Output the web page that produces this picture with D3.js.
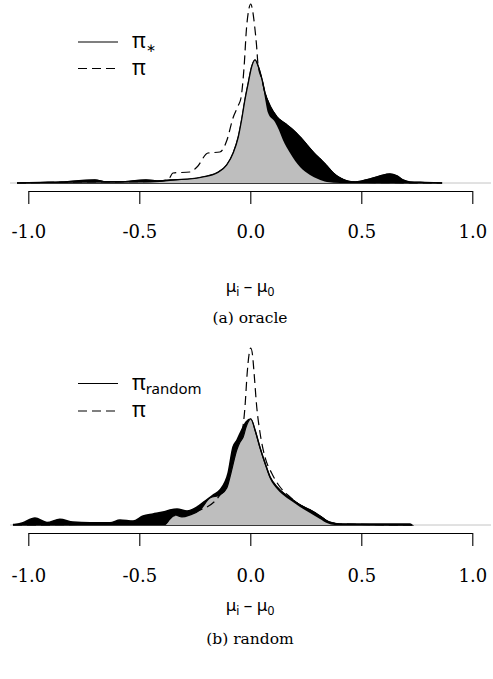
<!DOCTYPE html>
<html>
<head>
<meta charset="utf-8">
<script src="https://cdn.jsdelivr.net/npm/d3@7/dist/d3.min.js"></script>
<style>
    body { margin: 0; background: #fff; }
</style>
</head>
<body>
<svg id="chart" width="493" height="679"></svg>
<script>
//tick values shared by both panels
var tickValues = [-1.0, -0.5, 0.0, 0.5, 1.0];

//(a) oracle, pairs of [mu_i - mu_0, density]
var oracleSolid = [
    [-1.051, 0], [-0.947, 0.017], [-0.85, 0.03], [-0.70, 0.1], [-0.65, 0.04], [-0.587, 0.04],
    [-0.47, 0.1], [-0.42, 0.07], [-0.362, 0.1], [-0.272, 0.133], [-0.213, 0.2], [-0.151, 0.333],
    [-0.106, 0.6], [-0.077, 1.0], [-0.054, 1.533], [-0.039, 2.1], [-0.024, 2.767], [-0.009, 3.333],
    [0.006, 3.867], [0.021, 4.1], [0.035, 3.9], [0.053, 3.433], [0.066, 3.0], [0.089, 2.567],
    [0.120, 2.2], [0.165, 1.933], [0.192, 1.767], [0.224, 1.533], [0.255, 1.267], [0.282, 1.033],
    [0.314, 0.8], [0.345, 0.567], [0.373, 0.333], [0.404, 0.167], [0.436, 0.067], [0.472, 0.033],
    [0.503, 0.067], [0.539, 0.133], [0.584, 0.233], [0.629, 0.3], [0.661, 0.233], [0.688, 0.1],
    [0.719, 0.033], [0.787, 0.017], [0.864, 0]
];
var oracleGray = [
    [-1.051, 0], [-0.45, 0.017], [-0.362, 0.067], [-0.272, 0.133], [-0.213, 0.2], [-0.151, 0.333],
    [-0.106, 0.6], [-0.077, 1.0], [-0.054, 1.533], [-0.039, 2.1], [-0.024, 2.767], [-0.009, 3.333],
    [0.006, 3.867], [0.021, 4.1], [0.035, 3.867], [0.053, 3.4], [0.066, 2.833], [0.080, 2.333],
    [0.111, 2.033], [0.129, 1.767], [0.147, 1.433], [0.179, 1.0], [0.224, 0.533], [0.269, 0.267],
    [0.305, 0.133], [0.345, 0.033], [0.404, 0], [0.864, 0]
];
var oracleDashed = [
    [-1.051, 0], [-0.767, 0.033], [-0.452, 0.05], [-0.371, 0.1], [-0.348, 0.333], [-0.272, 0.367],
    [-0.240, 0.533], [-0.191, 1.0], [-0.137, 1.033], [-0.105, 1.433], [-0.078, 2.167], [-0.055, 2.567],
    [-0.042, 2.833], [-0.028, 3.867], [-0.017, 5.167], [-0.008, 5.733], [0.002, 5.967], [0.010, 5.767],
    [0.019, 5.267], [0.028, 4.6], [0.035, 3.933], [0.053, 3.433], [0.066, 3.0], [0.089, 2.567],
    [0.120, 2.2], [0.165, 1.933], [0.192, 1.767], [0.224, 1.533], [0.255, 1.267], [0.282, 1.033],
    [0.314, 0.8], [0.345, 0.567], [0.373, 0.333], [0.404, 0.167], [0.436, 0.067], [0.5, 0.02], [0.864, 0]
];

//(b) random
var randomBand = [
    [-1.069, 0], [-1.028, 0.067], [-0.970, 0.233], [-0.916, 0.083], [-0.858, 0.19], [-0.799, 0.1],
    [-0.722, 0.077], [-0.632, 0.077], [-0.587, 0.167], [-0.528, 0.133], [-0.483, 0.3], [-0.438, 0.367],
    [-0.393, 0.433], [-0.362, 0.5], [-0.330, 0.533], [-0.285, 0.467], [-0.240, 0.6], [-0.204, 0.8],
    [-0.168, 1.0], [-0.137, 1.167], [-0.100, 1.733], [-0.078, 2.6], [-0.060, 2.833], [-0.039, 3.167],
    [-0.019, 3.433], [0.002, 3.533], [0.021, 3.167], [0.044, 2.567], [0.066, 2.067], [0.089, 1.6],
    [0.120, 1.267], [0.165, 0.967], [0.192, 0.833], [0.224, 0.667], [0.269, 0.5], [0.314, 0.3],
    [0.345, 0.133], [0.372, 0.067], [0.404, 0.033], [0.719, 0.033], [0.728, 0]
];
var randomGray = [
    [-1.069, 0], [-0.384, 0], [-0.362, 0.2], [-0.339, 0.333], [-0.308, 0.267], [-0.272, 0.333],
    [-0.227, 0.5], [-0.182, 0.9], [-0.137, 1.0], [-0.106, 1.233], [-0.087, 1.733], [-0.061, 2.5],
    [-0.046, 2.767], [-0.032, 2.933], [-0.019, 3.267], [0.002, 3.533], [0.021, 3.1], [0.044, 2.5],
    [0.066, 2.0], [0.089, 1.533], [0.120, 1.2], [0.165, 0.9], [0.192, 0.767], [0.224, 0.6],
    [0.269, 0.4], [0.314, 0.2], [0.345, 0.067], [0.381, 0], [0.728, 0]
];
var randomSolid = [
    [-1.069, 0.02], [-0.384, 0.02], [-0.362, 0.2], [-0.339, 0.333], [-0.308, 0.267], [-0.272, 0.333],
    [-0.227, 0.5], [-0.182, 0.9], [-0.137, 1.0], [-0.106, 1.233], [-0.087, 1.733], [-0.061, 2.5],
    [-0.046, 2.767], [-0.032, 2.933], [-0.019, 3.267], [0.002, 3.533], [0.021, 3.167], [0.044, 2.567],
    [0.066, 2.067], [0.089, 1.6], [0.120, 1.267], [0.165, 0.967], [0.192, 0.833], [0.224, 0.667],
    [0.269, 0.5], [0.314, 0.3], [0.345, 0.133], [0.372, 0.067], [0.404, 0.033], [0.728, 0]
];
var randomDashed = [
    [-1.069, 0], [-0.632, 0.033], [-0.384, 0.267], [-0.227, 0.5], [-0.137, 1.0], [-0.100, 1.6],
    [-0.069, 2.5], [-0.046, 2.933], [-0.032, 3.333], [-0.024, 3.933], [-0.014, 5.067], [-0.006, 5.667],
    [0.002, 5.9], [0.010, 5.667], [0.017, 5.067], [0.029, 3.933], [0.044, 3.067], [0.066, 2.267],
    [0.096, 1.733], [0.134, 1.267], [0.179, 0.933], [0.224, 0.667], [0.269, 0.5], [0.314, 0.3],
    [0.345, 0.133], [0.372, 0.067], [0.404, 0.033], [0.728, 0]
];

//parameters of one panel
DensityPanel = function(_svg, _series, _layout){
    this.svg = _svg;
    this.series = _series;
    this.layout = _layout;

    this.initVis();
}

DensityPanel.prototype.initVis = function(){
    var vis = this;
    var L = vis.layout;

    vis.x = d3.scaleLinear().domain([-1, 1]).range([28.3, 472.3]);
    vis.y = d3.scaleLinear().domain([0, 6]).range([L.baseline, L.baseline - 180]);

    vis.area = d3.area()
        .x(function(d) { return vis.x(d[0]); })
        .y0(vis.y(0))
        .y1(function(d) { return vis.y(d[1]); })
        .curve(d3.curveMonotoneX);

    vis.line = d3.line()
        .x(function(d) { return vis.x(d[0]); })
        .y(function(d) { return vis.y(d[1]); })
        .curve(d3.curveMonotoneX);

    vis.g = vis.svg.append("g");

    //light zero line
    vis.g.append("line")
        .attr("x1", 10).attr("x2", 491)
        .attr("y1", vis.y(0)).attr("y2", vis.y(0))
        .attr("stroke", "#c4c4c4")
        .attr("stroke-width", 1);

    //black band, then gray fill on top
    vis.g.append("path")
        .datum(vis.series.band)
        .attr("d", vis.area)
        .attr("fill", "#000")
        .attr("stroke", "#000")
        .attr("stroke-width", 1.5);

    vis.g.append("path")
        .datum(vis.series.gray)
        .attr("d", vis.area)
        .attr("fill", "#bebebe");

    vis.g.append("path")
        .datum(vis.series.solid)
        .attr("d", vis.line)
        .attr("fill", "none")
        .attr("stroke", "#000")
        .attr("stroke-width", 1.2);

    vis.g.append("path")
        .datum(vis.series.dashed)
        .attr("d", vis.line)
        .attr("fill", "none")
        .attr("stroke", "#000")
        .attr("stroke-width", 1.2)
        .attr("stroke-dasharray", "9,5");

    //x axis
    vis.xAxis = d3.axisBottom(vis.x)
        .tickValues(tickValues)
        .tickSize(13)
        .tickSizeOuter(0)
        .tickFormat(function(d) { return d.toFixed(1); });

    var ax = vis.g.append("g")
        .attr("transform", "translate(0," + L.axisY + ")")
        .call(vis.xAxis)
        .attr("font-family", "'DejaVu Serif', serif")
        .attr("font-size", 18);
    ax.selectAll("path, line").attr("stroke", "#000").attr("stroke-width", 1.1);
    ax.selectAll("text")
        .attr("dy", null)
        .attr("y", L.tickBaseline - L.axisY)
        .attr("fill", "#000");

    //axis title mu_i - mu_0
    var t = vis.g.append("text")
        .attr("x", 250)
        .attr("y", L.labelBaseline)
        .attr("text-anchor", "middle")
        .attr("font-family", "'Noto Sans', sans-serif")
        .attr("font-size", 17);
    t.append("tspan").text("μ");
    t.append("tspan").attr("font-size", 12).attr("dy", 4).text("i");
    t.append("tspan").attr("dy", -4).text(" – μ");
    t.append("tspan").attr("font-size", 12).attr("dy", 4).text("0");

    //caption
    vis.g.append("text")
        .attr("x", 250)
        .attr("y", L.captionBaseline)
        .attr("text-anchor", "middle")
        .attr("font-family", "'DejaVu Serif', serif")
        .attr("font-size", 15.5)
        .text(L.caption);

    //legend
    var rows = [{dash: null, sub: L.legendSub, y: L.legendY[0]}, {dash: "9,5", sub: null, y: L.legendY[1]}];
    rows.forEach(function(r) {
        vis.g.append("line")
            .attr("x1", 78).attr("x2", 118)
            .attr("y1", r.y).attr("y2", r.y)
            .attr("stroke", "#000")
            .attr("stroke-width", 1.2)
            .attr("stroke-dasharray", r.dash);
        var lt = vis.g.append("text")
            .attr("x", 132)
            .attr("y", r.y + 6)
            .attr("font-family", "'Noto Sans', sans-serif")
            .attr("font-size", 21);
        lt.append("tspan").text("π");
        if (r.sub) {
            lt.append("tspan")
                .attr("font-size", r.sub.length > 1 ? 15 : 12)
                .attr("dy", 4)
                .text(r.sub);
        }
    });
}

var svg = d3.select("#chart");

new DensityPanel(svg,
    {band: oracleSolid, gray: oracleGray, solid: oracleSolid, dashed: oracleDashed},
    {baseline: 183, axisY: 191, tickBaseline: 238, labelBaseline: 292, captionBaseline: 323,
     legendY: [42, 68.5], legendSub: "∗", caption: "(a) oracle"});

new DensityPanel(svg,
    {band: randomBand, gray: randomGray, solid: randomSolid, dashed: randomDashed},
    {baseline: 525, axisY: 533, tickBaseline: 582, labelBaseline: 611, captionBaseline: 644,
     legendY: [383.5, 411], legendSub: "random", caption: "(b) random"});
</script>
</body>
</html>
